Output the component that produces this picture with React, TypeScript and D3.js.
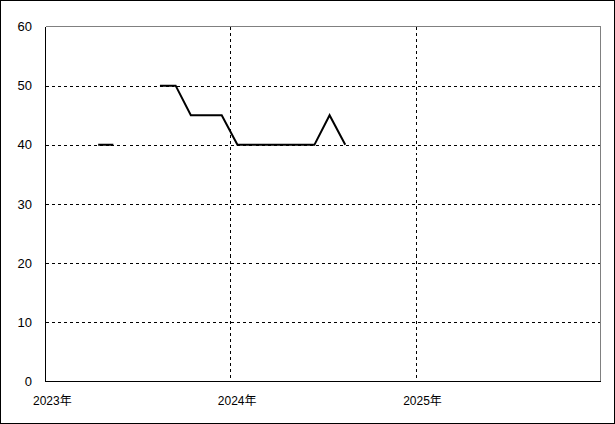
import { useEffect, useRef } from 'react';
import * as d3 from 'd3';

// monthly observations (mid-month), null = no data
const dates = [
  '2023-04-15', '2023-05-15', '2023-06-15', '2023-07-15', '2023-08-15', '2023-09-15',
  '2023-10-15', '2023-11-15', '2023-12-15', '2024-01-15', '2024-02-15', '2024-03-15',
  '2024-04-15', '2024-05-15', '2024-06-15', '2024-07-15', '2024-08-15',
];
const values: (number | null)[] = [
  40, 40, null, null, 50, 50,
  45, 45, 45, 40, 40, 40,
  40, 40, 40, 45, 40,
];
const yTicks = [0, 10, 20, 30, 40, 50, 60];
const xTicks = ['2023-01-01', '2024-01-01', '2025-01-01'];
const xTickLabels = ['2023年', '2024年', '2025年'];

const W = 615;
const H = 424;
const margin = { left: 45.5, right: 14.5, top: 26.5, bottom: 42.5 };

export default function App() {
  const svgRef = useRef<SVGSVGElement>(null);

  useEffect(() => {
    document.body.style.margin = '0';
    if (!svgRef.current) return;
    const svg = d3.select(svgRef.current);
    svg.selectAll('*').remove();

    const parse = d3.timeParse('%Y-%m-%d');
    const x = d3.scaleTime()
      .domain([parse('2023-01-01')!, parse('2026-01-01')!])
      .range([margin.left, W - margin.right]);
    const y = d3.scaleLinear().domain([0, 60]).range([H - margin.bottom, margin.top]);

    const font = '"Liberation Sans", "Noto Sans CJK JP", sans-serif';

    svg.append('rect')
      .attr('x', 0.5).attr('y', 0.5)
      .attr('width', W - 1).attr('height', H - 1)
      .attr('fill', '#fff').attr('stroke', '#000');

    // horizontal grid
    svg.append('g')
      .selectAll('line')
      .data(yTicks.filter(t => t > 0 && t < 60))
      .enter()
      .append('line')
      .attr('x1', margin.left).attr('x2', W - margin.right)
      .attr('y1', d => Math.round(y(d)) + 0.5).attr('y2', d => Math.round(y(d)) + 0.5)
      .attr('stroke', '#000').attr('stroke-dasharray', '3,3')
      .attr('shape-rendering', 'crispEdges');

    // vertical grid
    svg.append('g')
      .selectAll('line')
      .data(xTicks.slice(1))
      .enter()
      .append('line')
      .attr('x1', d => Math.round(x(parse(d)!)) + 0.5).attr('x2', d => Math.round(x(parse(d)!)) + 0.5)
      .attr('y1', margin.top).attr('y2', H - margin.bottom)
      .attr('stroke', '#000').attr('stroke-dasharray', '3,3')
      .attr('shape-rendering', 'crispEdges');

    // frame: gray top/right, black axes
    const x0 = margin.left, x1 = W - margin.right, y0 = H - margin.bottom, y1 = margin.top;
    svg.append('path')
      .attr('d', `M${x0},${y1}H${x1}V${y0}`)
      .attr('fill', 'none').attr('stroke', '#808080')
      .attr('shape-rendering', 'crispEdges');
    svg.append('path')
      .attr('d', `M${x0},${y1}V${y0}H${x1}`)
      .attr('fill', 'none').attr('stroke', '#000')
      .attr('shape-rendering', 'crispEdges');

    // y labels
    svg.append('g')
      .selectAll('text')
      .data(yTicks)
      .enter()
      .append('text')
      .attr('x', 32)
      .attr('y', d => y(d))
      .attr('dy', '0.35em')
      .attr('text-anchor', 'end')
      .attr('font-family', font)
      .attr('font-size', 13)
      .text(d => String(d));

    // x labels
    svg.append('g')
      .selectAll('text')
      .data(xTicks)
      .enter()
      .append('text')
      .attr('x', d => x(parse(d)!) - 12.5)
      .attr('y', 405)
      .attr('font-family', font)
      .attr('font-size', 12)
      .text((_, i) => xTickLabels[i]);

    const pts = dates.map((d, i) => ({ t: parse(d)!, v: values[i] }));
    const line = d3.line<{ t: Date; v: number | null }>()
      .defined(d => d.v !== null)
      .x(d => x(d.t))
      .y(d => y(d.v as number));

    svg.append('path')
      .datum(pts)
      .attr('d', line)
      .attr('fill', 'none')
      .attr('stroke', '#000')
      .attr('stroke-width', 2);
  }, []);

  return <svg ref={svgRef} width={W} height={H} style={{ display: 'block' }}></svg>;
}
